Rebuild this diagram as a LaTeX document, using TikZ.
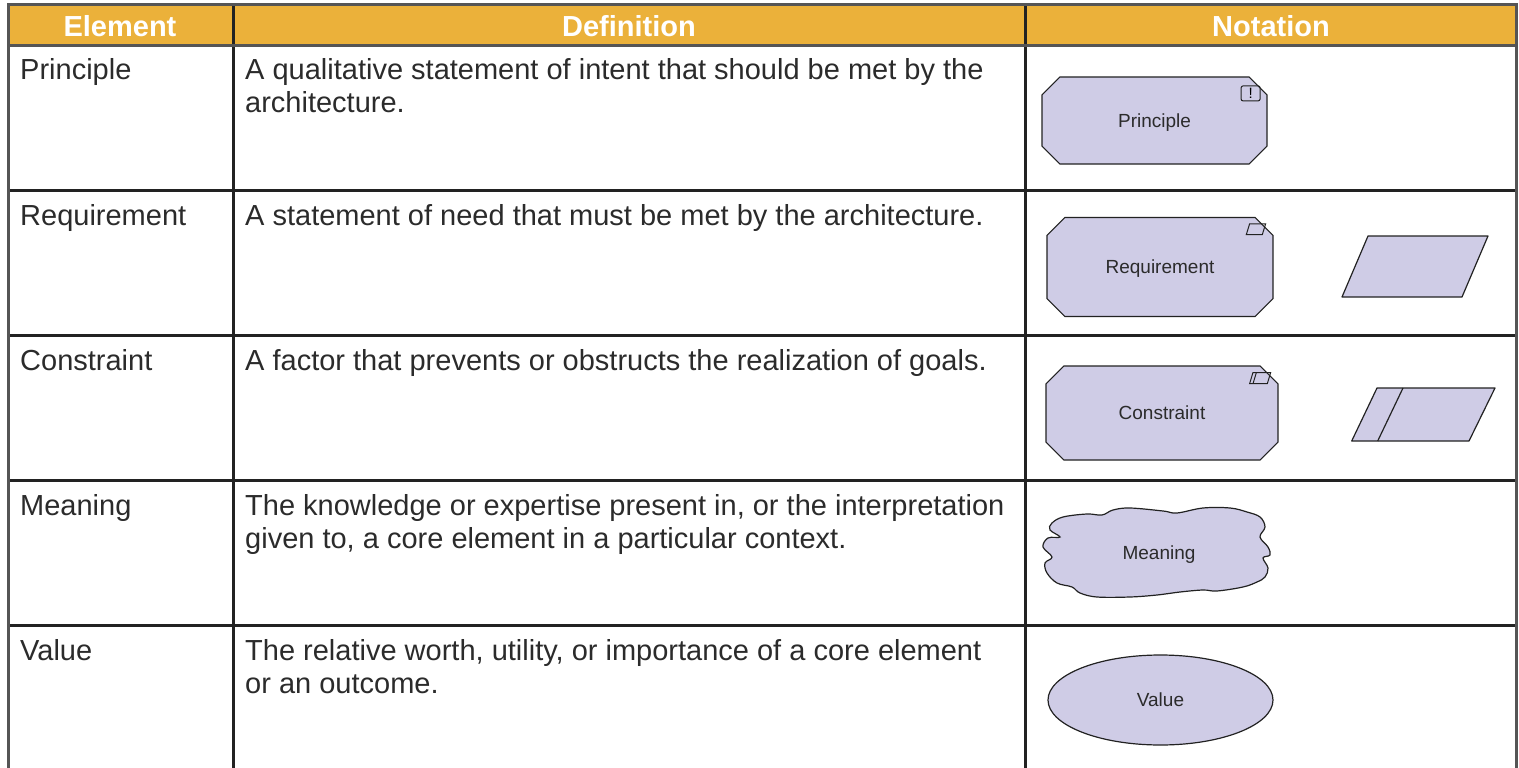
\documentclass[tikz,border=0pt]{standalone}
\usepackage{fontspec}
\setmainfont{Liberation Sans}
\usepackage{tikz}
\usetikzlibrary{positioning}
\usetikzlibrary{shapes.misc,shapes.geometric}
\definecolor{headfill}{HTML}{EBB13A}
\definecolor{notefill}{HTML}{CFCCE6}
\definecolor{gridline}{HTML}{222222}
\definecolor{framegrey}{HTML}{555555}
\definecolor{bodytext}{HTML}{2B2B2B}

\begin{document}
\begin{tikzpicture}[x = 1pt, y = -1pt,
        head/.style = {text = white, font = \fontsize{29}{33}\selectfont\bfseries, anchor = base, inner sep = 0},
        term/.style = {text = bodytext, font = \fontsize{29}{33}\selectfont, anchor = base west, inner sep = 0, align = left},
        frame/.style = {draw = framegrey, line width = 3pt},
        rule/.style = {draw = gridline, line width = 3pt},
        notebox/.style = {draw = gridline, fill = notefill, line width = 1.2pt, text = bodytext,
            font = \fontsize{19}{22}\selectfont, chamfered rectangle, chamfered rectangle xsep = 11pt,
            chamfered rectangle ysep = 11pt, inner sep = 0, text depth = 0pt},
        slanted/.style = {draw = gridline, fill = notefill, line width = 1.2pt, line join = round},
        notemark/.style = {draw = gridline, line width = 1pt}
        ]
        \useasboundingbox (0,0) rectangle (1519,768);
        \fill[headfill] (8,5) rectangle (1516,46);
        \node[head] (hElement) at (120,37) {Element};
        \node[head] (hDefinition) at (629,37) {Definition};
        \node[head] (hNotation) at (1271,37) {Notation};
        \draw[rule] (8,190) -- (1516,190);
        \draw[rule] (8,335) -- (1516,335);
        \draw[rule] (8,480) -- (1516,480);
        \draw[rule] (8,625) -- (1516,625);
        \draw[rule] (233,5) -- (233,768);
        \draw[rule] (1025,5) -- (1025,768);
        \draw[frame] (8,46) -- (1516,46);
        \draw[frame] (8,768) -- (8,5) -- (1516,5) -- (1516,768);

        % last line sits on the given baseline
        \node[term] (tPrinciple) at (20,80) {Principle};
        \node[term] (dPrinciple) at (245,113) {A qualitative statement of intent that should be met by the\\architecture.};
        \node[term] (tRequirement) at (20,225) {Requirement};
        \node[term] (dRequirement) at (245,225) {A statement of need that must be met by the architecture.};
        \node[term] (tConstraint) at (20,370) {Constraint};
        \node[term] (dConstraint) at (245,370) {A factor that prevents or obstructs the realization of goals.};
        \node[term] (tMeaning) at (20,515) {Meaning};
        \node[term] (dMeaning) at (245,548) {The knowledge or expertise present in, or the interpretation\\given to, a core element in a particular context.};
        \node[term] (tValue) at (20,660) {Value};
        \node[term] (dValue) at (245,693) {The relative worth, utility, or importance of a core element\\or an outcome.};

        % notation
        \node[notebox, minimum width = 225, minimum height = 87] (principle) at (1154.5,120.5) {Principle};
        \node[notemark, rounded corners = 2pt, minimum width = 19, minimum height = 15, inner sep = 0,
            font = \fontsize{15}{15}\selectfont, anchor = north east] (principleMark)
            at ([shift = {(-7,9)}]principle.north -| principle.east) {!};

        \node[notebox, minimum width = 226, minimum height = 99] (requirement) at (1160,267) {Requirement};
        \draw[notemark] ([shift = {(-24,7)}]requirement.north -| requirement.east)
            -- ++(16,0) -- ++(-3.3,10.7) -- ++(-16,0) -- cycle;
        \draw[slanted] (1342,297) -- (1368,236) -- (1488,236) -- (1462,297) -- cycle;

        \node[notebox, minimum width = 232, minimum height = 94] (constraint) at (1162,413) {Constraint};
        \draw[notemark] ([shift = {(-25.7,7.3)}]constraint.north -| constraint.east)
            -- ++(17.7,0) -- ++(-3.3,11) -- ++(-17.7,0) -- cycle;
        \draw[notemark] ([shift = {(-22.3,7.3)}]constraint.north -| constraint.east) -- ++(-3.3,11);
        \draw[slanted] (1351.7,441) -- (1377,388) -- (1495,388) -- (1469,441) -- cycle;
        \draw[slanted] (1403,388) -- (1377.7,441);

        \draw[draw = gridline, fill = notefill, line width = 1.2pt] plot[smooth cycle, tension = 0.6] coordinates {
            (1051.7,523.3) (1063,517) (1087,514) (1102,515) (1113,510) (1130,508) (1163,511) (1177,513)
            (1203,508) (1230,508) (1247,512) (1260,517) (1265,527) (1260,537) (1268,547) (1270,555)
            (1263,558) (1268,568) (1265,577) (1257,582) (1243,587) (1217,591) (1203,590) (1180,592)
            (1157,595) (1130,597) (1097,597) (1080,593) (1072,587) (1057,583) (1047,573) (1045,563)
            (1052,557) (1043,547) (1048,538) (1060,537) (1050,530)};
        \node[text = bodytext, font = \fontsize{19}{22}\selectfont, text depth = 0pt] (meaning) at (1159,553) {Meaning};

        \node[draw = gridline, fill = notefill, line width = 1.2pt, ellipse, text = bodytext,
            font = \fontsize{19}{22}\selectfont, minimum width = 225, minimum height = 90] (value) at (1160.5,700) {Value};
\end{tikzpicture}
\end{document}
